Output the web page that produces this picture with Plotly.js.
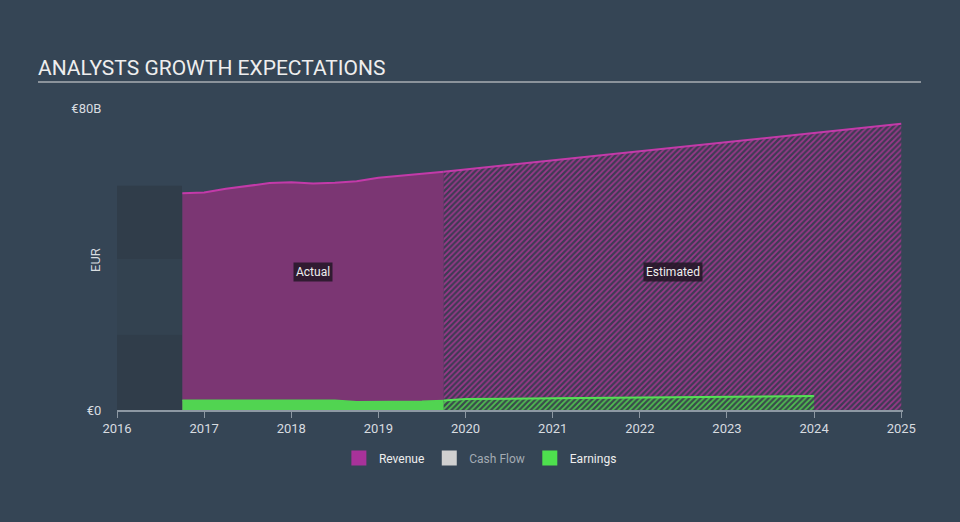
<!DOCTYPE html>
<html>
<head>
<meta charset="utf-8">
<script src="https://cdn.plot.ly/plotly-3.0.1.min.js"></script>
<style>
  body { margin: 0; background: #354555; }
  #chart { width: 960px; height: 522px; }
</style>
</head>
<body>
<div id="chart"></div>
<script>
// revenue, past quarters (EUR billions)
const revActX = [2016.75, 2017.0, 2017.25, 2017.5, 2017.75, 2018.0, 2018.25, 2018.5, 2018.75, 2019.0, 2019.25, 2019.5, 2019.75];
const revActY = [57.4, 57.6, 58.6, 59.4, 60.1, 60.3, 60.0, 60.2, 60.6, 61.5, 62.0, 62.5, 63.1];
// revenue, analyst estimates
const revEstX = [2019.75, 2020, 2021, 2022, 2023, 2024, 2025];
const revEstY = [63.1, 63.7, 66.2, 68.6, 71.0, 73.4, 75.8];

// earnings
const earnActX = revActX;
const earnActY = [2.6, 2.6, 2.65, 2.7, 2.7, 2.7, 2.65, 2.6, 2.2, 2.2, 2.3, 2.3, 2.5];
const earnEstX = [2019.75, 2020, 2021, 2022, 2023, 2024];
const earnEstY = [2.5, 2.9, 3.1, 3.3, 3.5, 3.7];

const yearTicks = [2016, 2017, 2018, 2019, 2020, 2021, 2022, 2023, 2024, 2025];

const bg = "#354555";

const traces = [
  {
    x: revActX, y: revActY, mode: "lines", fill: "tozeroy",
    fillcolor: "#7b3673",
    line: { color: "#c33aa9", width: 2 },
    showlegend: false,
  },
  {
    x: revEstX, y: revEstY, mode: "lines", fill: "tozeroy",
    fillpattern: { shape: "/", fgcolor: "#9a3889", bgcolor: "#3e3b54", size: 4, solidity: 0.45 },
    line: { color: "#c33aa9", width: 2 },
    showlegend: false,
  },
  {
    x: earnActX, y: earnActY, mode: "lines", fill: "tozeroy",
    fillcolor: "#51d451",
    line: { color: "#51d451", width: 1.5 },
    showlegend: false,
  },
  {
    x: earnEstX, y: earnEstY, mode: "lines", fill: "tozeroy",
    fillpattern: { shape: "/", fgcolor: "#4fbf4f", bgcolor: "#3a4a4c", size: 4, solidity: 0.45 },
    line: { color: "#55e055", width: 2 },
    showlegend: false,
  },
  // legend only
  {
    x: [null], y: [null], mode: "markers", name: "Revenue",
    marker: { symbol: "square", size: 15, color: "#a8329a" },
  },
  {
    x: [null], y: [null], mode: "markers", name: "<span style='color:#a3abb3'>Cash Flow</span>",
    marker: { symbol: "square", size: 15, color: "#d0d0d0" },
  },
  {
    x: [null], y: [null], mode: "markers", name: "Earnings",
    marker: { symbol: "square", size: 15, color: "#4ee04e" },
  },
];

const layout = {
  width: 960,
  height: 522,
  paper_bgcolor: bg,
  plot_bgcolor: bg,
  font: { family: "Roboto, sans-serif", size: 12, color: "#e6e8ea" },
  margin: { l: 117, r: 57, t: 108, b: 112 },
  title: {
    text: "ANALYSTS GROWTH EXPECTATIONS",
    font: { size: 21, color: "#eeeeee" },
    xref: "container", x: 38 / 960, xanchor: "left",
    yref: "container", y: 1 - 68 / 522, yanchor: "middle",
  },
  xaxis: {
    range: [2016, 2025.02],
    tickvals: yearTicks,
    ticktext: yearTicks.map(String),
    ticks: "outside", ticklen: 6, tickcolor: "#8d98a3",
    showline: true, linecolor: "#8d98a3", linewidth: 1.5,
    showgrid: false, zeroline: false,
    tickfont: { size: 13, color: "#d8dce0" },
  },
  yaxis: {
    range: [0, 80],
    tickvals: [0, 80],
    ticktext: ["€0", "€80B"],
    ticks: "outside", ticklen: 12, tickcolor: "rgba(0,0,0,0)",
    showline: false, showgrid: false, zeroline: false,
    tickfont: { size: 13, color: "#d8dce0" },
  },
  shapes: [
    { type: "rect", layer: "below", xref: "x", yref: "y", x0: 2016, x1: 2016.745, y0: 0, y1: 20, fillcolor: "#303d4a", line: { width: 0 } },
    { type: "rect", layer: "below", xref: "x", yref: "y", x0: 2016, x1: 2016.745, y0: 20, y1: 40, fillcolor: "#334250", line: { width: 0 } },
    { type: "rect", layer: "below", xref: "x", yref: "y", x0: 2016, x1: 2016.745, y0: 40, y1: 59.4, fillcolor: "#303d4a", line: { width: 0 } },
    { type: "line", xref: "paper", yref: "paper", x0: (38 - 117) / 786, x1: (921 - 117) / 786, y0: (410 - 82) / 302, y1: (410 - 82) / 302, line: { color: "#a9aeb3", width: 1.5 } },
  ],
  annotations: [
    { text: "Actual", x: 2018.25, y: 36.5, xref: "x", yref: "y", showarrow: false,
      bgcolor: "rgba(35,22,38,0.85)", borderpad: 2, font: { size: 12, color: "#eeeeee" } },
    { text: "Estimated", x: 2022.38, y: 36.5, xref: "x", yref: "y", showarrow: false,
      bgcolor: "rgba(35,22,38,0.85)", borderpad: 2, font: { size: 12, color: "#eeeeee" } },
    { text: "EUR", xref: "paper", yref: "paper", x: (95 - 117) / 786, y: (410 - 260) / 302,
      textangle: -90, showarrow: false, xanchor: "center", yanchor: "middle",
      font: { size: 13, color: "#d8dce0" } },
  ],
  showlegend: true,
  legend: {
    orientation: "h",
    xref: "container", yref: "container",
    x: 0.353, y: 1 - 458 / 522,
    xanchor: "left", yanchor: "middle",
    bgcolor: "rgba(0,0,0,0)",
    font: { size: 12, color: "#eeeeee" },
  },
  hovermode: false,
};

Plotly.newPlot("chart", traces, layout, { staticPlot: true });
</script>
</body>
</html>
